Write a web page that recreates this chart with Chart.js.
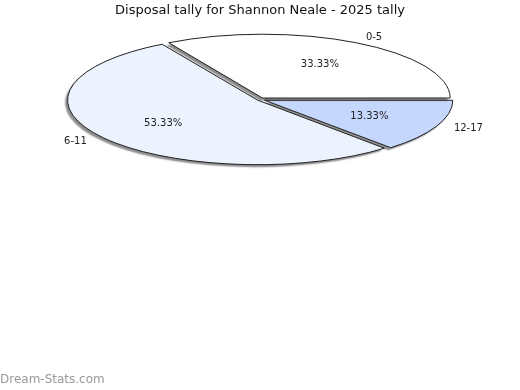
<!DOCTYPE html>
<html>
<head>
<meta charset="utf-8">
<script src="https://cdn.jsdelivr.net/npm/chart.js@4/dist/chart.umd.min.js"></script>
<style>
  html, body { margin: 0; padding: 0; background: #fff; }
  #grafico { display: block; }
</style>
</head>
<body>
<canvas id="grafico" width="520" height="390"></canvas>
<script>
// Datos del gráfico
const categorias = ['0-5', '6-11', '12-17'];
const valores = [5, 8, 2];
const colores = ['#ffffff', '#ecf2fe', '#c6d7fe'];
const titulo = 'Disposal tally for Shannon Neale - 2025 tally';
const marcaAgua = 'Dream-Stats.com';

// el original va en sentido antihorario desde el este, Chart.js va en horario
const orden = [2, 1, 0];
const etiq = orden.map(i => categorias[i]);
const datos = orden.map(i => valores[i]);
const fondos = orden.map(i => colores[i]);

const total = valores.reduce((a, b) => a + b, 0);

// centro y aplanado de la elipse
const CX = 260, CY = 99.5, K = 0.34, R = 187;

// aplana el pastel y le pone sombra
const pluginElipse = {
  id: 'elipse',
  beforeDatasetsDraw(chart) {
    const arc = chart.getDatasetMeta(0).data[0];
    const ctx = chart.ctx;
    const dpr = chart.currentDevicePixelRatio || 1;
    // el borde se traza sin la escala para que quede de 1px parejo
    const strokeOrig = ctx.stroke;
    ctx.stroke = function () {
      ctx.save();
      ctx.setTransform(dpr, 0, 0, dpr, 0, 0);
      ctx.shadowColor = 'rgba(0,0,0,0)';
      strokeOrig.apply(ctx, arguments);
      ctx.restore();
    };
    ctx.save();
    ctx.translate(CX, CY);
    ctx.scale(1, K);
    ctx.translate(-arc.x, -arc.y);
    ctx.shadowColor = 'rgba(0,0,0,0.45)';
    ctx.shadowOffsetX = -2.5;
    ctx.shadowOffsetY = 2.5;
    ctx.shadowBlur = 1.5;
  },
  afterDatasetsDraw(chart) {
    const ctx = chart.ctx;
    ctx.restore();
    delete ctx.stroke;
    const meta = chart.getDatasetMeta(0);
    ctx.save();
    ctx.fillStyle = '#222';
    ctx.font = '10px "DejaVu Sans"';
    ctx.textAlign = 'center';
    ctx.textBaseline = 'middle';
    meta.data.forEach((a, i) => {
      const ang = (a.startAngle + a.endAngle) / 2;
      const pct = (datos[i] / total * 100).toFixed(2) + '%';
      ctx.fillText(pct, CX + Math.cos(ang) * R * 0.64, CY + Math.sin(ang) * R * 0.64 * K);
      ctx.fillText(etiq[i], CX + Math.cos(ang) * R * 1.22, CY + Math.sin(ang) * R * 1.13 * K);
    });
    ctx.fillStyle = '#9a9a9a';
    ctx.font = '12px "DejaVu Sans"';
    ctx.textAlign = 'left';
    ctx.fillText(marcaAgua, 0, 380);
    ctx.restore();
  }
};

new Chart(document.getElementById('grafico').getContext('2d'), {
  type: 'pie',
  data: {
    labels: etiq,
    datasets: [{
      data: datos,
      backgroundColor: fondos,
      borderColor: '#222',
      borderWidth: 1,
      offset: [20, 12, 20],
      radius: R,
      clip: false
    }]
  },
  options: {
    responsive: false,
    animation: false,
    rotation: 90,
    events: [],
    plugins: {
      legend: { display: false },
      tooltip: { enabled: false },
      title: {
        display: true,
        text: titulo,
        color: '#111',
        font: { family: '"DejaVu Sans"', size: 13, weight: 'normal' },
        padding: { top: 3, bottom: 0 }
      }
    }
  },
  plugins: [pluginElipse]
});
</script>
</body>
</html>
